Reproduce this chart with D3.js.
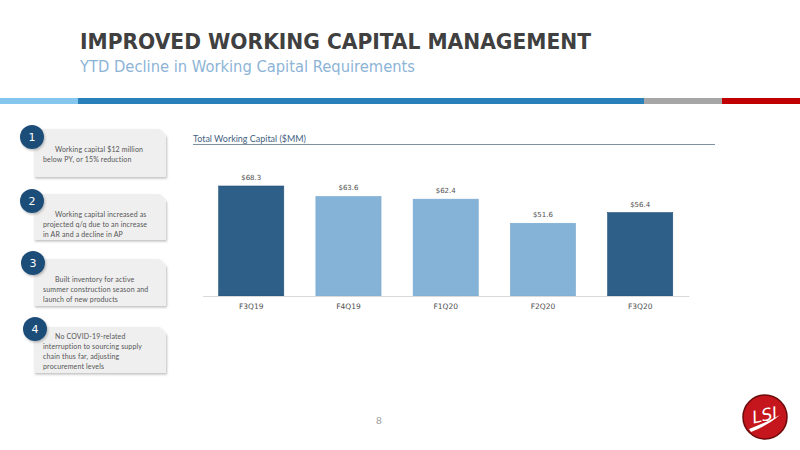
<!DOCTYPE html>
<html>
<head>
<meta charset="utf-8">
<script src="https://cdn.jsdelivr.net/npm/d3@7"></script>
<style>
  body { margin: 0; background: #fff; }
  svg { display: block; }
</style>
</head>
<body>
<svg id="slide" width="800" height="450"></svg>
<script>
// データ
var quarters = ["F3Q19", "F4Q19", "F1Q20", "F2Q20", "F3Q20"];
var capital = [68.3, 63.6, 62.4, 51.6, 56.4];
var noteNumbers = ["1", "2", "3", "4"];
var noteLines = [
    ["Working capital  $12 million", "below PY, or 15% reduction"],
    ["Working capital increased as", "projected q/q due to an increase", "in AR and a decline in AP"],
    ["Built inventory for active", "summer construction season and", "launch of new products"],
    ["No COVID-19-related", "interruption to sourcing supply", "chain thus far, adjusting", "procurement levels"]
];

var svg = d3.select("#slide");

// 影
var defs = svg.append("defs");
var sh = defs.append("filter").attr("id", "shadow")
    .attr("x", "-20%").attr("y", "-20%").attr("width", "150%").attr("height", "150%");
sh.append("feDropShadow").attr("dx", 1).attr("dy", 1.5).attr("stdDeviation", 1.2)
    .attr("flood-color", "#000").attr("flood-opacity", 0.25);

// タイトル
svg.append("text").attr("x", 80).attr("y", 48.5)
    .attr("font-family", "DejaVu Sans Condensed, DejaVu Sans")
    .attr("font-weight", "bold").attr("font-size", 21)
    .attr("fill", "#404040")
    .attr("textLength", 511).attr("lengthAdjust", "spacingAndGlyphs")
    .text("IMPROVED WORKING CAPITAL MANAGEMENT");
svg.append("text").attr("x", 80).attr("y", 71.5)
    .attr("font-family", "DejaVu Sans Condensed, DejaVu Sans")
    .attr("font-size", 15)
    .attr("fill", "#8db4d6")
    .attr("textLength", 335).attr("lengthAdjust", "spacingAndGlyphs")
    .text("YTD Decline in Working Capital Requirements");

// 帯
var stripe = [
    { x0: 0, x1: 78, c: "#85c6ee" },
    { x0: 78, x1: 644, c: "#2a80bb" },
    { x0: 644, x1: 722, c: "#a6a6a6" },
    { x0: 722, x1: 800, c: "#c00000" }
];
svg.selectAll("rect.stripe").data(stripe).enter().append("rect")
    .attr("class", "stripe")
    .attr("x", function (d) { return d.x0; })
    .attr("y", 98).attr("height", 6)
    .attr("width", function (d) { return d.x1 - d.x0; })
    .attr("fill", function (d) { return d.c; });

// 左側のメモ
var boxTops = [129, 194, 259, 327];
var boxHeights = [48, 46, 47, 46];
var circleDy = [8, 7, 4, 2];
var circleDx = [32, 32, 33, 35];

var notes = svg.selectAll("g.note").data(noteLines).enter().append("g")
    .attr("class", "note")
    .attr("transform", function (d, i) { return "translate(0," + boxTops[i] + ")"; });

notes.append("path")
    .attr("d", function (d, i) {
        var h = boxHeights[i], x0 = 34, x1 = 166, s = 7;
        return "M" + x0 + ",0 H" + (x1 - s) + " L" + x1 + "," + s + " V" + h + " H" + x0 + " Z";
    })
    .attr("fill", "#efefef")
    .attr("filter", "url(#shadow)");

notes.each(function (lines, i) {
    var g = d3.select(this);
    g.selectAll("text.line").data(lines).enter().append("text")
        .attr("class", "line")
        .attr("x", function (d, j) { return j == 0 ? 55 : 43; })
        .attr("y", function (d, j) { return (i == 3 ? 12 : 22.5) + j * 10; })
        .attr("font-family", "Lato, DejaVu Sans")
        .attr("font-size", 7)
        .attr("letter-spacing", 0.15)
        .attr("fill", "#555")
        .text(function (d) { return d; });
});

notes.append("circle")
    .attr("cx", function (d, i) { return circleDx[i]; })
    .attr("cy", function (d, i) { return circleDy[i]; })
    .attr("r", 12)
    .attr("fill", "#1f4e79")
    .attr("filter", "url(#shadow)");
notes.append("text")
    .attr("x", function (d, i) { return circleDx[i]; })
    .attr("y", function (d, i) { return circleDy[i] + 4; })
    .attr("text-anchor", "middle")
    .attr("font-family", "DejaVu Sans")
    .attr("font-size", 11)
    .attr("fill", "#fff")
    .text(function (d, i) { return noteNumbers[i]; });

// グラフ
var x = d3.scaleBand().domain(quarters).range([202.6, 688.8])
    .paddingInner(0.33).paddingOuter(0.165);
var y = d3.scaleLinear().domain([19, 68.3]).range([296, 186]);

svg.append("text").attr("x", 193).attr("y", 142)
    .attr("font-family", "Lato, DejaVu Sans").attr("font-size", 8.5)
    .attr("fill", "#3f5f80")
    .attr("textLength", 113).attr("lengthAdjust", "spacingAndGlyphs")
    .text("Total Working Capital ($MM)");
svg.append("line").attr("x1", 193).attr("x2", 715).attr("y1", 144.5).attr("y2", 144.5)
    .attr("stroke", "#5f7385").attr("stroke-width", 0.8);

var chart = svg.append("g");
var isHighlight = function (q) { return /^F3Q/.test(q); };

chart.selectAll("rect.bar").data(quarters).enter().append("rect")
    .attr("class", "bar")
    .attr("x", function (d) { return x(d); })
    .attr("width", x.bandwidth())
    .attr("y", function (d, i) { return y(capital[i]); })
    .attr("height", function (d, i) { return y.range()[0] - y(capital[i]); })
    .attr("fill", function (d) { return isHighlight(d) ? "#2d5f89" : "#85b3d8"; })
    .attr("stroke", function (d) { return isHighlight(d) ? "#255276" : "#7aa9cf"; })
    .attr("stroke-width", 0.6);

chart.selectAll("text.val").data(quarters).enter().append("text")
    .attr("class", "val")
    .attr("x", function (d) { return x(d) + x.bandwidth() / 2; })
    .attr("y", function (d, i) { return y(capital[i]) - 6; })
    .attr("text-anchor", "middle")
    .attr("font-family", "DejaVu Sans").attr("font-size", 7)
    .attr("fill", "#505050")
    .text(function (d, i) { return "$" + capital[i].toFixed(1); });

var xAxis = chart.append("g").attr("transform", "translate(0,296)")
    .call(d3.axisBottom(x).tickSize(0).tickPadding(8));
xAxis.select(".domain").attr("stroke", "#d9d9d9").attr("stroke-width", 1.2);
xAxis.selectAll("text").attr("font-family", "DejaVu Sans").attr("font-size", 7.5)
    .attr("fill", "#505050");

// ページ番号
svg.append("text").attr("x", 379).attr("y", 424)
    .attr("text-anchor", "middle")
    .attr("font-family", "Lato, DejaVu Sans").attr("font-size", 10)
    .attr("fill", "#a0a0a0").text("8");

// ロゴ
var logo = svg.append("g").attr("transform", "translate(765,417)");
logo.append("circle").attr("r", 22).attr("fill", "#c4161c")
    .attr("stroke", "#6b0a0a").attr("stroke-width", 1.5);
logo.append("text").attr("x", 0).attr("y", 4)
    .attr("text-anchor", "middle")
    .attr("transform", "rotate(-12)")
    .attr("font-family", "DejaVu Sans")
    .attr("font-style", "italic").attr("font-size", 17)
    .attr("fill", "#fff").text("LSI");
logo.append("path")
    .attr("d", "M-16,12 Q0,6 15,-2 Q2,9 -14,15 Z")
    .attr("fill", "#fff");
</script>
</body>
</html>
